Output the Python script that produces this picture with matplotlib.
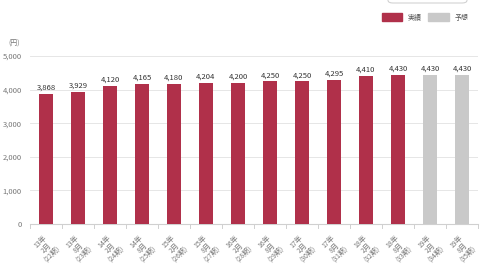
import matplotlib.pyplot as plt
from matplotlib.patches import Patch, FancyBboxPatch

plt.rcParams['font.family'] = ['Noto Sans CJK JP', 'DejaVu Sans']

labels = ["13年\n2月\n(22期)", "13年\n8月\n(23期)", "14年\n2月\n(24期)", "14年\n8月\n(25期)",
          "15年\n2月\n(26期)", "15年\n8月\n(27期)", "16年\n2月\n(28期)", "16年\n8月\n(29期)",
          "17年\n2月\n(30期)", "17年\n8月\n(31期)", "18年\n2月\n(32期)", "18年\n8月\n(33期)",
          "19年\n2月\n(34期)", "19年\n8月\n(35期)"]
values = [3868, 3929, 4120, 4165, 4180, 4204, 4200, 4250, 4250, 4295, 4410, 4430, 4430, 4430]
is_forecast = [False] * 12 + [True] * 2

red = '#B0304A'
gray = '#C9C9C9'
colors = [gray if f else red for f in is_forecast]

fig = plt.figure(figsize=(4.8, 2.71), dpi=100)
ax = fig.add_axes([30 / 480, 1 - 224 / 271, 448 / 480, 168 / 271])

x = range(len(values))
ax.bar(x, values, width=0.44, color=colors, zorder=3)
for i, v in zip(x, values):
    ax.text(i, v + 60, f"{v:,}", ha='center', va='bottom', fontsize=5.5, color='#333333')

ax.set_xlim(-0.5, len(values) - 0.5)
ax.set_ylim(0, 5000)
ax.set_yticks(range(0, 5001, 1000))
ax.set_yticklabels([f"{t:,}" for t in range(0, 5001, 1000)], fontsize=5.5, color='#777777')
ax.yaxis.grid(True, color='#E6E6E6', lw=0.7, zorder=0)
ax.tick_params(axis='y', length=0, pad=6)

ax.set_xticks(x)
ax.set_xticklabels(labels, fontsize=5, color='#777777', rotation=45, rotation_mode='anchor',
                   ha='center', va='center', multialignment='center', linespacing=1.05)
ax.tick_params(axis='x', length=0, pad=17)
for s in ['top', 'right', 'left']:
    ax.spines[s].set_visible(False)
ax.spines['bottom'].set_color('#D0D0D0')

# separators below the axis
for b in [i - 0.5 for i in range(len(values) + 1)]:
    ax.plot([b, b], [0, -120], color='#D0D0D0', lw=0.7, clip_on=False)

fig.text(8 / 480, 1 - 44 / 271, "(円)", fontsize=5, color='#777777', va='center')

handles = [Patch(color=red, label='実績'), Patch(color=gray, label='予想')]
fig.legend(handles=handles, loc='upper right', bbox_to_anchor=(475 / 480, 1 - 7 / 271), ncol=2,
           frameon=False, fontsize=5, handlelength=2.9, handleheight=1.4, columnspacing=0.9,
           handletextpad=0.9, labelcolor='#555555')

box = FancyBboxPatch((388 / 480, 1 - 3 / 271), 79 / 480, 10 / 271, boxstyle='round,pad=0,rounding_size=0.01',
                     transform=fig.transFigure, fill=False, edgecolor='#CCCCCC', lw=0.7)
fig.patches.append(box)

fig.savefig('out.png', dpi=100)
